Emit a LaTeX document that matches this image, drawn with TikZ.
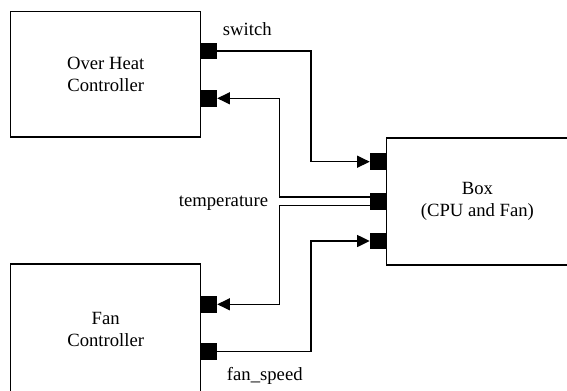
\documentclass[tikz,border=0pt]{standalone}
\usepackage{fontspec}
\setmainfont{Liberation Serif}
\usetikzlibrary{arrows.meta,calc}
\begin{document}
\begin{tikzpicture}[x=0.75pt,y=-0.75pt,
  blk/.style={draw,line width=1pt,rectangle,inner sep=0,align=center,font=\rmfamily\fontsize{14}{16.5}\selectfont},
  port/.style={fill=black,inner sep=0,minimum width=12.4pt,minimum height=12.4pt},
  wire/.style={line width=1pt},
  arr/.style={wire,-{Triangle[length=9.5pt,width=9pt]}},
  lbl/.style={font=\rmfamily\fontsize{14}{16.5}\selectfont,inner sep=0}]
\useasboundingbox (0,0) rectangle (567,390);
\clip (0,0) rectangle (567,390);
% blocks
\node[blk,minimum width=142.5pt,minimum height=94pt] (oh) at (105.7,74.4) {Over Heat\\Controller};
\node[blk,minimum width=142.5pt,minimum height=97.5pt] (fan) at (105.7,329) {Fan\\Controller};
\node[blk,minimum width=136pt,minimum height=95.25pt] (box) at (477.4,201.5) {Box\\(CPU and Fan)};
% ports
\node[port] (ohs) at (208.7,51) {};
\node[port] (oht) at (208.7,98.3) {};
\node[port] (fnt) at (208.7,304.3) {};
\node[port] (fns) at (208.7,351.7) {};
\node[port] (bsw) at (378.3,161.7) {};
\node[port] (bt) at (378.3,201.3) {};
\node[port] (bfn) at (378.3,241) {};
% helper coordinates
\coordinate (xs) at (311,0);
\coordinate (xt) at (279.5,0);
\coordinate (tu) at ($(bt.west)+(0,-4.3)$);
\coordinate (td) at ($(bt.west)+(0,4.3)$);
% connectors
\draw[arr] (ohs.east) -- (ohs.east -| xs) -- (bsw.west -| xs) -- (bsw.west);
\draw[arr] (tu) -- (tu -| xt) -- (oht.east -| xt) -- (oht.east);
\draw[arr] (td) -- (td -| xt) -- (fnt.east -| xt) -- (fnt.east);
\draw[arr] (fns.east) -- (fns.east -| xs) -- (bfn.west -| xs) -- (bfn.west);
% labels
\node[lbl,anchor=base west] (lsw) at (222.7,35) {switch};
\node[lbl,anchor=base east] (ltp) at (268.3,206.5) {temperature};
\node[lbl,anchor=base west] (lfs) at (226.7,380) {fan\_speed};
\end{tikzpicture}
\end{document}
